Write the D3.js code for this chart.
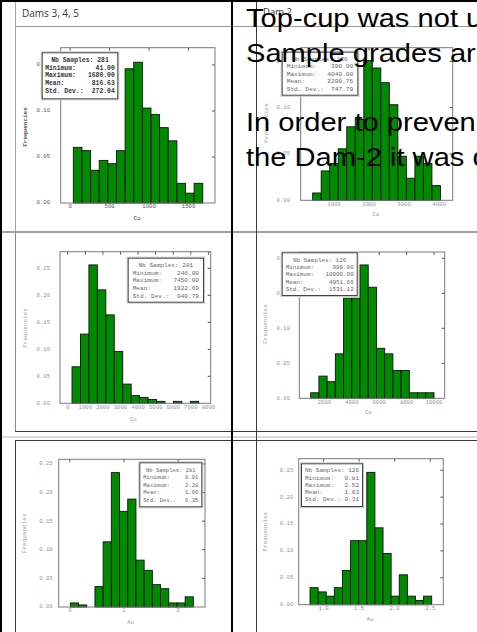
<!DOCTYPE html>
<html><head><meta charset="utf-8">
<script src="https://cdn.jsdelivr.net/npm/d3@7"></script>
<style>html,body{margin:0;padding:0;background:#fff;overflow:hidden}</style>
</head><body>
<script>
// Histogram frequencies: 15 equal-width classes between each sample's minimum and maximum
const coDams345 = [0.0605,0.0569,0.0356,0.0463,0.0427,0.0569,0.1459,0.1530,0.1032,0.0961,0.0819,0.0676,0.0214,0.0107,0.0214];
const coDam2    = [0.0079,0.0317,0.0397,0.0556,0.0794,0.0873,0.1508,0.1429,0.1270,0.1032,0.0476,0.0238,0.0476,0.0397,0.0159];
const cuDams345 = [0.0676,0.1281,0.2562,0.2100,0.1637,0.0961,0.0356,0.0142,0.0107,0.0071,0.0036,0,0.0036,0,0.0036];
const cuDam2    = [0.0079,0.0317,0.0238,0.0635,0.1429,0.1429,0.1905,0.1587,0.0714,0.0635,0.0397,0.0397,0.0079,0.0079,0.0079];
const auDams345 = [0.0071,0.0036,0,0.0356,0.1139,0.2349,0.1673,0.1886,0.0819,0.0641,0.0391,0.0320,0.0071,0.0071,0.0178];
const auDam2    = [0.0317,0.0238,0.0159,0.0317,0.0635,0.1190,0.1190,0.2460,0.1429,0.0952,0.0159,0.0556,0.0159,0.0079,0.0159];

// Summary statistics shown in each histogram's legend box
const statLabels = ["Nb Samples:", "Minimum:", "Maximum:", "Mean:", "Std. Dev.:"];
const coDams345Stats = ["281", "41.00", "1680.00", "816.63", "272.04"];
const coDam2Stats    = ["126", "390.00", "4040.00", "2200.76", "747.79"];
const cuDams345Stats = ["281", "246.00", "7450.00", "1922.69", "940.79"];
const cuDam2Stats    = ["126", "999.00", "10000.00", "4951.66", "1531.12"];
const auDams345Stats = ["281", "0.01", "2.28", "1.06", "0.35"];
const auDam2Stats    = ["126", "0.81", "2.52", "1.63", "0.31"];

// Axis ticks
const coDams345Ticks = [0, 500, 1000, 1500];
const coDam2Ticks    = [1000, 2000, 3000, 4000];
const cuDams345Ticks = [0, 1000, 2000, 3000, 4000, 5000, 6000, 7000, 8000];
const cuDam2Ticks    = [2000, 4000, 6000, 8000, 10000];
const auDams345Ticks = [0, 1, 2];
const auDam2Ticks    = [1.0, 1.5, 2.0, 2.5];
const freqTicks      = [0, 0.05, 0.10, 0.15, 0.20, 0.25];

const columnTitles = ["Dams 3, 4, 5", "Dam 2"];
const noteLines = ["Top-cup was not u", "Sample grades ar", "", "In order to preven", "the Dam-2 it was d"];

const W = 477, H = 632;
const svg = d3.select("body").append("svg").attr("width", W).attr("height", H)
  .style("display", "block");

// ---- table grid ----
const grid = svg.append("g");
function hline(y, x0, x1, color, w) { grid.append("rect").attr("x", x0).attr("y", y).attr("width", x1 - x0).attr("height", w).attr("fill", color); }
function vline(x, y0, y1, color, w) { grid.append("rect").attr("x", x).attr("y", y0).attr("width", w).attr("height", y1 - y0).attr("fill", color); }
hline(26, 15, W, "#9a9a9a", 1);
hline(231, 0, W, "#a0a0a0", 2);
hline(431, 15, W, "#3a3a3a", 1);
hline(436, 0, W, "#dcdcdc", 2);
hline(440, 15, W, "#3a3a3a", 1);
vline(15, 0, 231, "#a0a0a0", 1);
vline(15, 233, 431, "#8a8a8a", 1);
vline(15, 440, H, "#3a3a3a", 1);
vline(256, 0, H, "#3a3a3a", 1);
vline(0, 0, H, "#000", 2);
vline(231, 0, H, "#000", 2);
hline(0, 0, W, "#000", 2);

svg.append("text").attr("x", 22).attr("y", 16.5).text(columnTitles[0])
  .attr("font-family", "Open Sans").attr("font-size", 10).attr("fill", "#333");
svg.append("text").attr("x", 263).attr("y", 15).text(columnTitles[1])
  .attr("font-family", "Open Sans").attr("font-size", 9.5).attr("fill", "#333");

// ---- histograms ----
const charts = [
  {freq: coDams345, stats: coDams345Stats, ticks: coDams345Ticks, xTitle: "Co",
   frame: [60.7, 47.7, 215, 203], xDom: [-119, 1835], yDom: [0, 0.1688], fmt: "d",
   box: [41.7, 52.3, 76.6, 47], boxFont: 6.4, boxStep: 7.7, boxPad: 3.5, yGap: 10.7,
   dark: true, yTitle: [25, 127], xTitlePos: [137, 219]},
  {freq: coDam2, stats: coDam2Stats, ticks: coDam2Ticks, xTitle: "Co",
   frame: [300.7, 47.7, 452.7, 200.3], xDom: [48, 4390], yDom: [0, 0.1648], fmt: "d",
   box: [281.7, 51.7, 76.6, 44], boxFont: 6.2, boxStep: 7.4, boxPad: 5, yGap: 10.7,
   yTitle: [266.7, 123], xTitlePos: [375.7, 215]},
  {freq: cuDams345, stats: cuDams345Stats, ticks: cuDams345Ticks, xTitle: "Cu",
   frame: [60, 251.7, 210.7, 403.3], xDom: [-438, 8130], yDom: [0, 0.2807], fmt: "d",
   box: [127.7, 257.7, 76.3, 45], boxFont: 6.1, boxStep: 7.6, boxPad: 5, yGap: 10,
   yTitle: [25.7, 328], xTitlePos: [133.3, 419.3]},
  {freq: cuDam2, stats: cuDam2Stats, ticks: cuDam2Ticks, xTitle: "Cu",
   frame: [299.3, 252, 444.7, 398.3], xDom: [168, 10781], yDom: [0, 0.209], fmt: "d",
   box: [281.7, 252.3, 76, 43.7], boxFont: 5.9, boxStep: 7.4, boxPad: 4, yGap: 9.3,
   yTitle: [265, 324], xTitlePos: [368.3, 412.7]},
  {freq: auDams345, stats: auDams345Stats, ticks: auDams345Ticks, xTitle: "Au",
   frame: [58.7, 459.3, 205, 607], xDom: [-0.205, 2.495], yDom: [0, 0.2582], fmt: "d",
   box: [139.3, 462.3, 63, 45], boxFont: 5.5, boxStep: 7.5, boxPad: 4, yGap: 6,
   yTitle: [24.3, 533.3], xTitlePos: [130.7, 622.3]},
  {freq: auDam2, stats: auDam2Stats, ticks: auDam2Ticks, xTitle: "Au",
   frame: [298.7, 458.7, 443.3, 604.7], xDom: [0.651, 2.683], yDom: [0, 0.2714], fmt: ".1f",
   box: [301, 463.3, 62, 43.7], boxFont: 6.0, boxStep: 7.2, boxPad: 4, yGap: 5.4,
   yTitle: [265, 531.7], xTitlePos: [370, 619.3]}
];

const mono = "'Liberation Mono', 'DejaVu Sans Mono', monospace";

charts.forEach(c => {
  const [fx0, fy0, fx1, fy1] = c.frame;
  const x = d3.scaleLinear().domain(c.xDom).range([fx0, fx1]);
  const y = d3.scaleLinear().domain(c.yDom).range([fy1, fy0]);
  const g = svg.append("g");
  const tickCol = c.dark ? "#555" : "#8e94a4";
  const titleCol = c.dark ? "#5a4a3e" : "#a89a8c";
  const boxCol = c.dark ? "#333" : "#666";

  // class limits from the sample minimum / maximum
  const lo = +c.stats[1], hi = +c.stats[2];
  const n = c.freq.length, step = (hi - lo) / n;
  const bins = c.freq.map((f, i) => ({x0: lo + i * step, x1: lo + (i + 1) * step, f}));

  g.selectAll("rect.bar").data(bins.filter(b => b.f > 0)).join("rect")
    .attr("class", "bar")
    .attr("x", d => x(d.x0)).attr("width", d => x(d.x1) - x(d.x0))
    .attr("y", d => y(d.f)).attr("height", d => y(0) - y(d.f))
    .attr("fill", "#008a00").attr("stroke", "#111").attr("stroke-width", 0.9);

  // frame
  g.append("rect").attr("x", fx0).attr("y", fy0).attr("width", fx1 - fx0).attr("height", fy1 - fy0)
    .attr("fill", "none").attr("stroke", "#7a7a7a").attr("stroke-width", 1);

  // inward ticks on top and right edges
  const yt = freqTicks.filter(t => t <= c.yDom[1]);
  g.selectAll("line.tt").data(c.ticks).join("line")
    .attr("x1", d => x(d)).attr("x2", d => x(d)).attr("y1", fy0).attr("y2", fy0 + 3)
    .attr("stroke", "#555").attr("stroke-width", 1);
  g.selectAll("line.rt").data(yt.filter(t => t > 0)).join("line")
    .attr("x1", fx1 - 3).attr("x2", fx1).attr("y1", d => y(d)).attr("y2", d => y(d))
    .attr("stroke", "#555").attr("stroke-width", 1);

  // tick labels
  const xf = d3.format(c.fmt), yf = d3.format(".2f");
  g.selectAll("text.xl").data(c.ticks).join("text")
    .attr("x", d => x(d)).attr("y", fy1 + 3.8).text(d => xf(d))
    .attr("text-anchor", "middle").attr("dominant-baseline", "middle")
    .attr("font-family", mono).attr("font-size", 5.6).attr("fill", tickCol);
  g.selectAll("text.yl").data(yt).join("text")
    .attr("x", fx0 - c.yGap).attr("y", d => y(d)).text(d => yf(d))
    .attr("text-anchor", "end").attr("dominant-baseline", "middle")
    .attr("font-family", mono).attr("font-size", 5.6).attr("fill", tickCol);

  // axis titles
  g.append("text").attr("x", c.xTitlePos[0]).attr("y", c.xTitlePos[1]).text(c.xTitle)
    .attr("text-anchor", "middle").attr("dominant-baseline", "middle")
    .attr("font-family", mono).attr("font-size", 5.6).attr("fill", c.dark ? "#333" : "#8e94a4");
  g.append("text").attr("transform", `translate(${c.yTitle[0]},${c.yTitle[1]}) rotate(-90)`)
    .text("Frequencies").attr("text-anchor", "middle").attr("dominant-baseline", "middle")
    .attr("font-family", mono).attr("font-size", 6).attr("fill", titleCol)
    .attr("font-weight", c.dark ? "bold" : "normal");

  // statistics box
  const [bx, by, bw, bh] = c.box;
  g.append("rect").attr("x", bx - 0.5).attr("y", by - 0.5).attr("width", bw + 1).attr("height", bh + 1)
    .attr("fill", "none").attr("stroke", "#c8c8c8").attr("stroke-width", 1);
  g.append("rect").attr("x", bx + 0.5).attr("y", by + 0.5).attr("width", bw - 1).attr("height", bh - 1)
    .attr("fill", "#fff").attr("stroke", "#444").attr("stroke-width", 1);
  const first = by + c.boxStep + 0.3;
  const weight = c.dark ? "bold" : "normal";
  g.append("text").attr("x", bx + bw / 2).attr("y", first)
    .text(statLabels[0] + " " + c.stats[0])
    .attr("text-anchor", "middle").attr("dominant-baseline", "middle")
    .attr("font-family", mono).attr("font-size", c.boxFont).attr("fill", boxCol)
    .attr("font-weight", weight);
  for (let i = 1; i < statLabels.length; i++) {
    const ty = first + i * c.boxStep;
    g.append("text").attr("x", bx + c.boxPad).attr("y", ty).text(statLabels[i])
      .attr("dominant-baseline", "middle")
      .attr("font-family", mono).attr("font-size", c.boxFont).attr("fill", boxCol)
      .attr("font-weight", weight);
    g.append("text").attr("x", bx + bw - c.boxPad).attr("y", ty).text(c.stats[i])
      .attr("text-anchor", "end").attr("dominant-baseline", "middle")
      .attr("font-family", mono).attr("font-size", c.boxFont).attr("fill", boxCol)
      .attr("font-weight", weight);
  }
});

// ---- note text laid over the right column ----
const note = svg.append("g").attr("transform", "translate(246,0) scale(1.12,1)");
noteLines.forEach((t, i) => {
  if (!t) return;
  note.append("text").attr("x", 0).attr("y", 27.5 + i * 34.6).text(t)
    .attr("font-family", "'Liberation Sans', Arial, sans-serif").attr("font-size", 26)
    .attr("fill", "#000");
});
</script>
</body></html>
